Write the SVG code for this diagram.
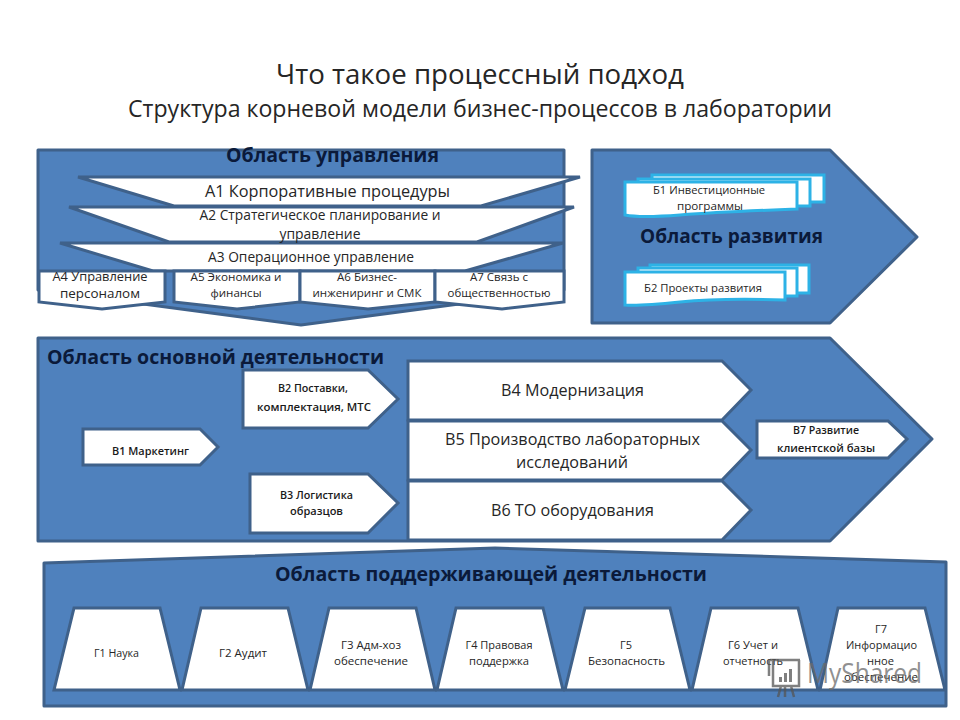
<svg xmlns="http://www.w3.org/2000/svg" width="960" height="720" viewBox="0 0 960 720">
<style>
text{font-family:"Open Sans","Noto Sans","DejaVu Sans",sans-serif;fill:#262626;text-anchor:middle}
.panel{fill:#4f81bd;stroke:#3f618a;stroke-width:3;stroke-linejoin:round}
.box{fill:#fff;stroke:#3f618a;stroke-width:3;stroke-linejoin:miter}
.doc{fill:#fff;stroke:#2db2e6;stroke-width:3}
.h{font-weight:700;font-size:19px;fill:#0b1a3a}
.s{font-size:11px}
.b{font-size:10px;font-weight:600;fill:#1a1a1a}
.m{font-size:14px}
.l{font-size:16px}
</style>
<rect width="960" height="720" fill="#fff"/>
<g id="title">
<text x="480" y="84" font-size="27" textLength="408" lengthAdjust="spacingAndGlyphs">Что такое процессный подход</text>
<text x="480" y="117" font-size="23" textLength="704" lengthAdjust="spacingAndGlyphs">Структура корневой модели бизнес-процессов в лаборатории</text>
</g>
<g id="connectors"/>
<g id="area-a">
<polygon class="panel" points="38,150 564,150 564,290 301,325 38,290"/>
<text class="h" x="332.500" y="162" textLength="213" lengthAdjust="spacingAndGlyphs">Область управления</text>
</g>
<g id="a3"><polygon class="box" points="60,243 563,243 465,271 153,271"/>
<text x="311" y="262" class="m" textLength="206" lengthAdjust="spacingAndGlyphs">А3 Операционное управление</text></g>
<g id="a2"><polygon class="box" points="69,207 574,207 477,242 169,242"/>
<text x="320" y="220" class="m" textLength="241" lengthAdjust="spacingAndGlyphs">А2 Стратегическое планирование и</text>
<text x="320" y="239" class="m" textLength="81" lengthAdjust="spacingAndGlyphs">управление</text></g>
<g id="a1"><polygon class="box" points="78,177 580,177 481,206 174,206"/>
<text x="327.500" y="197" class="l" textLength="245" lengthAdjust="spacingAndGlyphs">А1 Корпоративные процедуры</text></g>
<g id="a4"><polygon class="box" points="39,271 165,271 165,302 102,309 39,302"/>
<text x="100" y="281" font-size="12.500" textLength="95" lengthAdjust="spacingAndGlyphs">А4 Управление</text>
<text x="100" y="298" font-size="12.500" textLength="80" lengthAdjust="spacingAndGlyphs">персоналом</text></g>
<g id="a5"><polygon class="box" points="174,271 300,271 300,302 237,309 174,302"/>
<text x="236" y="281" class="s" textLength="91" lengthAdjust="spacingAndGlyphs">А5 Экономика  и</text>
<text x="236" y="297" class="s" textLength="51" lengthAdjust="spacingAndGlyphs">финансы</text></g>
<g id="a6"><polygon class="box" points="300,271 435,271 435,302 368,309 300,302"/>
<text x="367" y="281" class="s" textLength="60" lengthAdjust="spacingAndGlyphs">А6 Бизнес-</text>
<text x="367" y="297" class="s" textLength="109" lengthAdjust="spacingAndGlyphs">инжениринг и СМК</text></g>
<g id="a7"><polygon class="box" points="435,271 564,271 564,302 502,309 435,302"/>
<text x="499" y="281" class="s" textLength="58" lengthAdjust="spacingAndGlyphs">А7 Связь с</text>
<text x="499" y="297" class="s" textLength="103" lengthAdjust="spacingAndGlyphs">общественностью</text></g>
<g id="area-b">
<polygon class="panel" points="592,150 830,150 917,237 830,323 592,323"/>
<text class="h" x="731.500" y="243" textLength="183" lengthAdjust="spacingAndGlyphs">Область развития</text>
</g>
<g id="b1">
<rect class="doc" x="652" y="175" width="172" height="27"/>
<rect class="doc" x="638" y="179" width="172" height="27"/>
<path class="doc" d="M625 182H797V209Q720 212 680 215T625 215Z"/>
<text x="709" y="194" class="s" textLength="112" lengthAdjust="spacingAndGlyphs">Б1 Инвестиционные</text>
<text x="710" y="210" class="s" textLength="66" lengthAdjust="spacingAndGlyphs">программы</text>
</g>
<g id="b2">
<rect class="doc" x="650" y="265" width="159" height="28"/>
<rect class="doc" x="638" y="268" width="159" height="28"/>
<path class="doc" d="M625 272H785V300Q720 298 680 302T625 305Z"/>
<text x="703" y="292" class="s" textLength="118" lengthAdjust="spacingAndGlyphs">Б2 Проекты развития</text>
</g>
<g id="area-c">
<polygon class="panel" points="38,338 830,338 932,439 830,541 38,541"/>
<text class="h" x="215.500" y="364" textLength="337" lengthAdjust="spacingAndGlyphs">Область основной деятельности</text>
</g>
<g id="v1"><polygon class="box" points="83,429 200,429 218,447 200,465 83,465"/>
<text x="150.500" y="455" class="b" textLength="77" lengthAdjust="spacingAndGlyphs">В1 Маркетинг</text></g>
<g id="v2"><polygon class="box" points="243,370 368,370 398,399 368,428 243,428"/>
<text x="313" y="392" class="b" textLength="70" lengthAdjust="spacingAndGlyphs">В2 Поставки,</text>
<text x="314" y="411" class="b" textLength="114" lengthAdjust="spacingAndGlyphs">комплектация,  МТС</text></g>
<g id="v3"><polygon class="box" points="250,474 368,474 398,503 368,533 250,533"/>
<text x="316.500" y="499" class="b" textLength="73" lengthAdjust="spacingAndGlyphs">В3 Логистика</text>
<text x="316.500" y="515" class="b" textLength="53" lengthAdjust="spacingAndGlyphs">образцов</text></g>
<g id="v4"><polygon class="box" points="408,361 722,361 751,390 722,420 408,420"/>
<text x="572.500" y="396" class="l" textLength="143" lengthAdjust="spacingAndGlyphs">В4 Модернизация</text></g>
<g id="v5"><polygon class="box" points="408,421 722,421 751,450 722,480 408,480"/>
<text x="572.500" y="445" class="l" textLength="255" lengthAdjust="spacingAndGlyphs">В5 Производство лабораторных</text>
<text x="572" y="468" class="l" textLength="112" lengthAdjust="spacingAndGlyphs">исследований</text></g>
<g id="v6"><polygon class="box" points="408,481 722,481 751,510 722,540 408,540"/>
<text x="572.500" y="516" class="l" textLength="163" lengthAdjust="spacingAndGlyphs">В6 ТО оборудования</text></g>
<g id="v7"><polygon class="box" points="757,421 888,421 907,439 888,458 757,458"/>
<text x="826" y="434" class="b" textLength="66" lengthAdjust="spacingAndGlyphs">В7 Развитие</text>
<text x="826" y="452" class="b" textLength="98" lengthAdjust="spacingAndGlyphs">клиентской  базы</text></g>
<g id="area-d">
<polygon class="panel" points="44,563 495,548 946,562 946,706 44,706"/>
<text class="h" x="491" y="581" textLength="432" lengthAdjust="spacingAndGlyphs">Область поддерживающей деятельности</text>
</g>
<g id="g1"><polygon class="box" points="74,608 160,608 180,690 54,690"/>
<text x="116.500" y="657" class="s" textLength="45" lengthAdjust="spacingAndGlyphs">Г1 Наука</text></g>
<g id="g2"><polygon class="box" points="201,608 288,608 308,690 182,690"/>
<text x="243" y="657" class="s" textLength="48" lengthAdjust="spacingAndGlyphs">Г2 Аудит</text></g>
<g id="g3"><polygon class="box" points="329,608 416,608 435,690 310,690"/>
<text x="371" y="649" class="s" textLength="60" lengthAdjust="spacingAndGlyphs">Г3 Адм-хоз</text>
<text x="371" y="665" class="s" textLength="74" lengthAdjust="spacingAndGlyphs">обеспечение</text></g>
<g id="g4"><polygon class="box" points="456,608 543,608 563,690 437,690"/>
<text x="499" y="649" class="s" textLength="67" lengthAdjust="spacingAndGlyphs">Г4 Правовая</text>
<text x="499" y="665" class="s" textLength="60" lengthAdjust="spacingAndGlyphs">поддержка</text></g>
<g id="g5"><polygon class="box" points="585,608 670,608 690,690 565,690"/>
<text x="626" y="649" class="s" textLength="12" lengthAdjust="spacingAndGlyphs">Г5</text>
<text x="626.500" y="665" class="s" textLength="77" lengthAdjust="spacingAndGlyphs">Безопасность</text></g>
<g id="g6"><polygon class="box" points="711,608 798,608 818,690 692,690"/>
<text x="753" y="649" class="s" textLength="50" lengthAdjust="spacingAndGlyphs">Г6 Учет и</text>
<text x="753" y="665" class="s" textLength="60" lengthAdjust="spacingAndGlyphs">отчетность</text></g>
<g id="g7"><polygon class="box" points="838,608 925,608 945,690 820,690"/>
<text x="881" y="633" class="s" textLength="12" lengthAdjust="spacingAndGlyphs">Г7</text>
<text x="881.500" y="649" class="s" textLength="71" lengthAdjust="spacingAndGlyphs">Информацио</text>
<text x="880.500" y="665" class="s" textLength="27" lengthAdjust="spacingAndGlyphs">нное</text>
<text x="881" y="681" class="s" textLength="74" lengthAdjust="spacingAndGlyphs">обеспечение</text></g>
<g id="watermark" opacity=".75">
<path d="M770 660H800M773 660V686H799V660M781 686L778 697M791 686L794 697M785 686V697M769 660V676" fill="none" stroke="#555" stroke-width="2.500"/>
<rect x="779" y="677" width="3" height="5" fill="#555"/><rect x="784" y="673" width="3" height="9" fill="#555"/><rect x="789" y="669" width="3" height="13" fill="#555"/>
<text x="864.500" y="683" font-size="28" textLength="115" lengthAdjust="spacingAndGlyphs" style="fill:#6b6b6b">MyShared</text>
</g>
</svg>
